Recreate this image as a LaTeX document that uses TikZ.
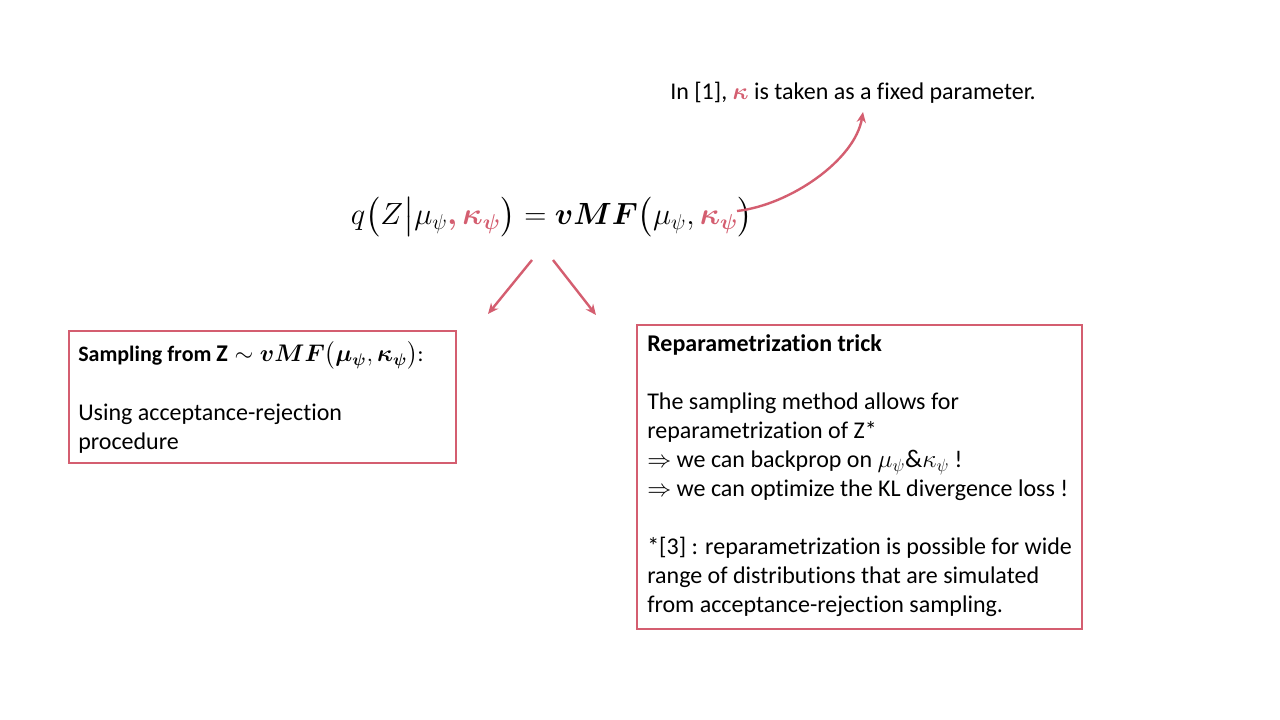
\RequirePackage{fix-cm}
\documentclass[tikz,border=0pt]{standalone}
\usepackage{fontspec}
\usepackage{amsmath,bm}
\setmainfont{Carlito}[Ligatures=NoCommon]
\usetikzlibrary{arrows.meta}
\definecolor{accent}{RGB}{212,94,112}
\tikzset{
  box/.style={draw=accent,line width=2pt,inner sep=0pt},
  txt/.style={anchor=north west,align=left,inner sep=0pt,font=\fontsize{18}{21.8}\selectfont},
  arr/.style={draw=accent,line width=1.8pt,-{Stealth[length=8pt,width=7pt]}}
}
\begin{document}
\begin{tikzpicture}[x=0.75pt,y=-0.75pt]
\useasboundingbox[fill=white] (0,0) rectangle (1280,720);
% top note
\node[anchor=base west,inner sep=0pt,font=\fontsize{18}{21.8}\selectfont] (note) at (670,100)
  {In [1], {\color{accent}$\bm{\kappa}$} is taken as a fixed parameter.};
% equation
\node[inner sep=0pt,font=\fontsize{23}{28}\selectfont] (eq) at (552,217)
  {$q\bigl(Z\big|\mu_\psi{\color{accent}\bm{,\kappa_\psi}}\bigr)=\bm{vMF}\bigl(\mu_\psi,{\color{accent}\bm{\kappa_\psi}}\bigr)$};
% boxes
\draw[box] (69,331) rectangle (456,463);
\draw[box] (637,325) rectangle (1082,629);
\node[txt] (lefttxt) at (78,341) {{\fontsize{16.5}{21.8}\selectfont\textbf{Sampling from {\fontsize{18}{22}\selectfont$\mathbf{Z}\sim\bm{vMF}\bigl(\bm{\mu_\psi},\bm{\kappa_\psi}\bigr)$}}:}\\[22pt]
Using acceptance-rejection\\procedure};
\node[txt] (righttxt) at (647,334) {\textbf{Reparametrization trick}\\[21.8pt]
The sampling method allows for\\
reparametrization of Z*\\
$\Rightarrow$ we can backprop on {\fontsize{19}{22}\selectfont$\mu_\psi\&\kappa_\psi$} !\\
$\Rightarrow$ we can optimize the KL divergence loss !\\[21.8pt]
*[3] : reparametrization is possible for wide\\
range of distributions that are simulated\\
from acceptance-rejection sampling.};
% arrows
\coordinate (a1s) at (532,260);
\coordinate (a1e) at (488,314);
\coordinate (a2s) at (553,260);
\coordinate (a2e) at (596,315);
\coordinate (cs) at (737,211);
\coordinate (ce) at (863,112);
\draw[arr] (a1s) -- (a1e);
\draw[arr] (a2s) -- (a2e);
\draw[arr] (cs) .. controls (790,205) and (855,160) .. (ce);
\end{tikzpicture}
\end{document}
